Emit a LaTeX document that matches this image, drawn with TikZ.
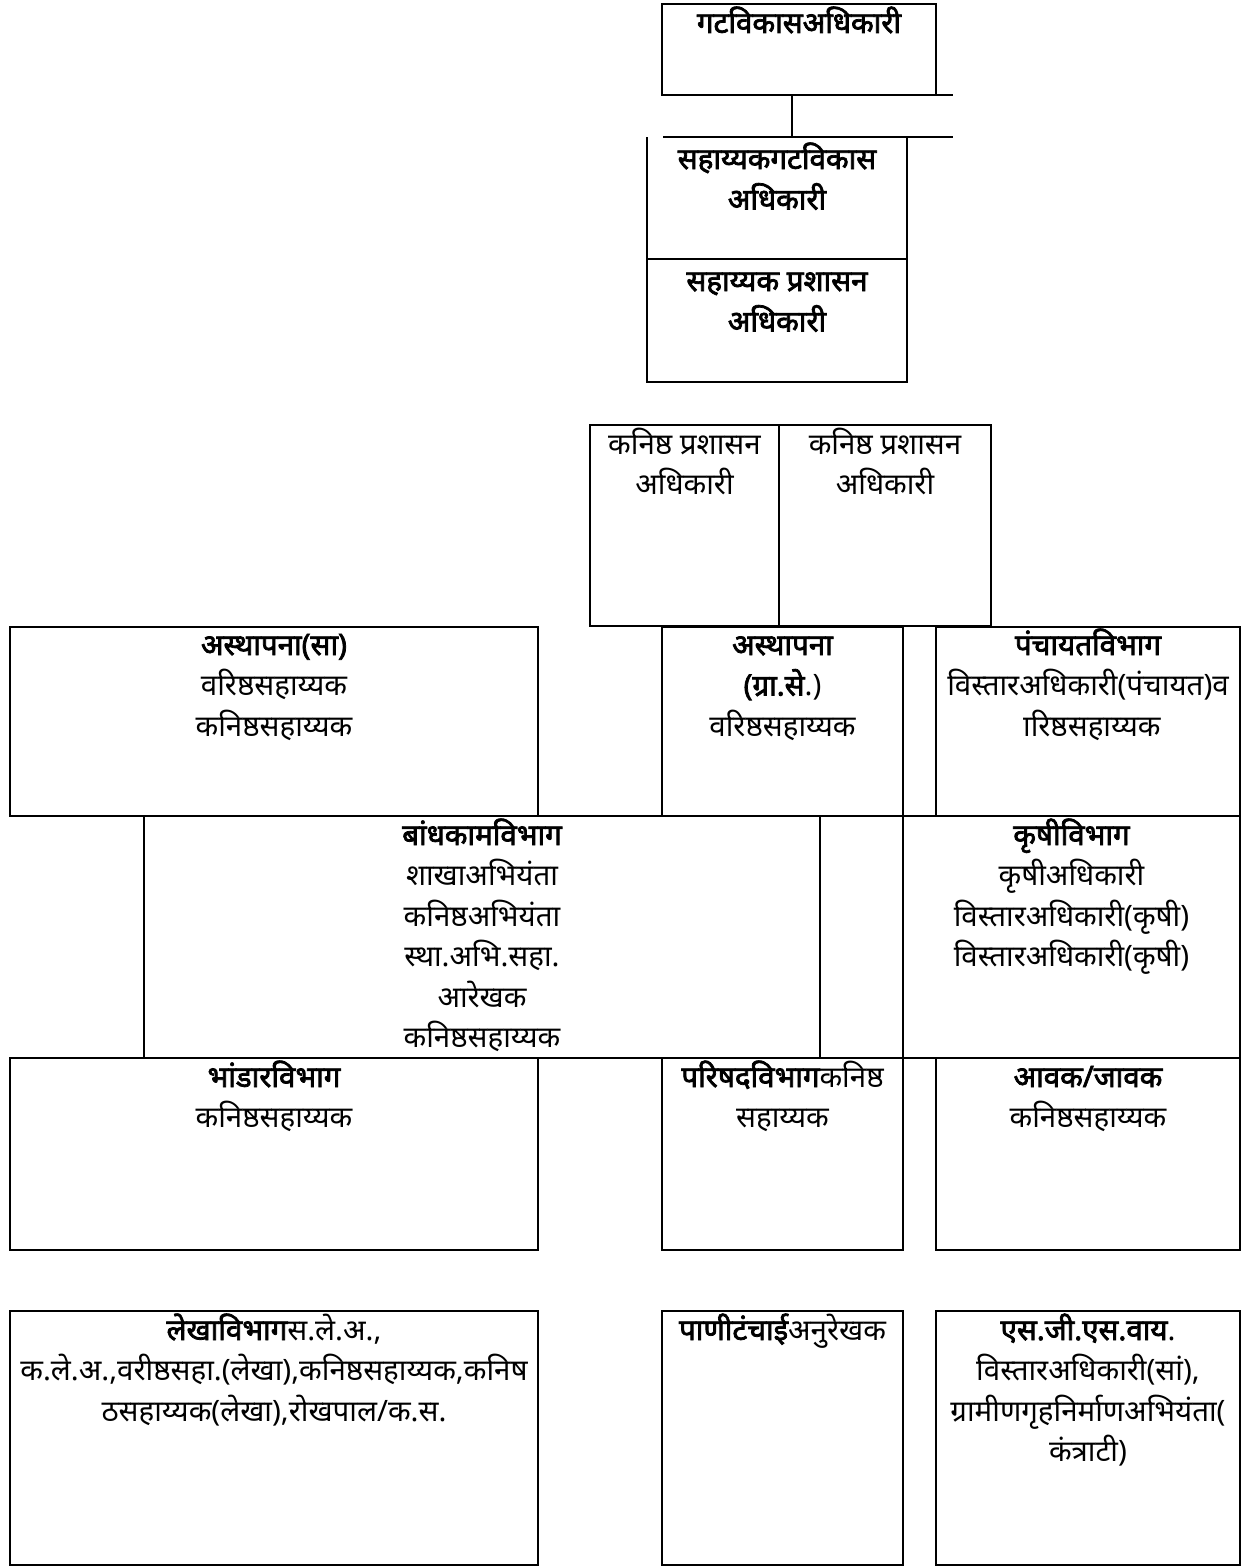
\documentclass[tikz,border=0pt]{standalone}
\usepackage{fontspec}
\setmainfont{Noto Sans}[Script=Devanagari, BoldFont={Noto Sans}, BoldFeatures={FakeBold=2.5}]
\usepackage{tikz}
\usetikzlibrary{positioning,calc}
\newcommand{\stack}[1]{\parbox[t]{600pt}{\centering #1}}
\tikzset{
  unitbox/.style={draw, line width=2.2pt, anchor=north west, inner sep=0pt, outer sep=0pt},
  plainbox/.style={unitbox, draw=none},
  unittext/.style={anchor=base, inner sep=0pt, font=\fontsize{29.5}{40.5}\selectfont},
  link/.style={line width=2.2pt}
}
\begin{document}
\begin{tikzpicture}[x=1pt, y=-1pt]
\useasboundingbox (0,0) rectangle (1256,1568);
% Top of the block
\node[unitbox, minimum width=274pt, minimum height=91pt] (bdo) at (662,4) {};
\node[unittext] at ($(bdo.north) + (0,29)$) {\stack{\bfseries गटविकासअधिकारी}};

% Assistant block
\node[plainbox, minimum width=260pt, minimum height=122pt] (abdo) at (647,137) {};
\node[unitbox, minimum width=260pt, minimum height=123pt] (aao) at (647,259) {};
\node[unittext] at ($(abdo.north) + (0,32)$) {\stack{\bfseries सहाय्यकगटविकास\\अधिकारी}};
\node[unittext] at ($(aao.north) + (0,32)$) {\stack{\bfseries सहाय्यक प्रशासन\\अधिकारी}};
\draw[link] (abdo.south west) -- (abdo.north west);
\draw[link] (abdo.south east) -- (abdo.north east);

% Connector
\coordinate (barL) at (663,137);
\coordinate (barR) at (953,137);
\coordinate (joint) at (792,137);
\draw[link] (bdo.south east) -- (barR |- bdo.south);
\draw[link] (barL) -- (barR);
\draw[link] (joint |- bdo.south) -- (joint);

% Junior officers
\node[unitbox, minimum width=189pt, minimum height=201pt] (jao1) at (590,425) {};
\node[unitbox, minimum width=212pt, minimum height=201pt] (jao2) at (779,425) {};
\node[unittext] at ($(jao1.north) + (0,29)$) {\stack{कनिष्ठ प्रशासन\\अधिकारी}};
\node[unittext] at ($(jao2.north) + (0,29)$) {\stack{कनिष्ठ प्रशासन\\अधिकारी}};

% Row 1
\node[unitbox, minimum width=528pt, minimum height=189pt] (estgen) at (10,627) {};
\node[unitbox, minimum width=241pt, minimum height=189pt] (estvil) at (662,627) {};
\node[unitbox, minimum width=304pt, minimum height=189pt] (panch) at (936,627) {};
\node[unittext] at ($(estgen.north) + (0,28)$) {\stack{{\bfseries अस्थापना(सा)}\\वरिष्ठसहाय्यक\\कनिष्ठसहाय्यक}};
\node[unittext] at ($(estvil.north) + (0,28)$) {\stack{{\bfseries अस्थापना\\(ग्रा.से}.)\\वरिष्ठसहाय्यक}};
\node[unittext] at ($(panch.north) + (0,28)$) {\stack{{\bfseries पंचायतविभाग}\\विस्तारअधिकारी(पंचायत)व\\^^^^00a0ारिष्ठसहाय्यक}};

% Row 2
\node[unitbox, minimum width=676pt, minimum height=242pt] (works) at (144,816) {};
\node[unitbox, minimum width=83pt, minimum height=242pt] (spare) at (820,816) {};
\node[unitbox, minimum width=337pt, minimum height=242pt] (agri) at (903,816) {};
\node[unittext] at ($(works.north) + (0,29)$) {\stack{{\bfseries बांधकामविभाग}\\शाखाअभियंता\\कनिष्ठअभियंता\\स्था.अभि.सहा.\\आरेखक\\कनिष्ठसहाय्यक}};
\node[unittext] at ($(agri.north) + (0,29)$) {\stack{{\bfseries कृषीविभाग}\\कृषीअधिकारी\\विस्तारअधिकारी(कृषी)\\विस्तारअधिकारी(कृषी)}};

% Row 3
\node[unitbox, minimum width=528pt, minimum height=192pt] (store) at (10,1058) {};
\node[unitbox, minimum width=241pt, minimum height=192pt] (council) at (662,1058) {};
\node[unitbox, minimum width=304pt, minimum height=192pt] (inout) at (936,1058) {};
\node[unittext] at ($(store.north) + (0,29)$) {\stack{{\bfseries भांडारविभाग}\\कनिष्ठसहाय्यक}};
\node[unittext] at ($(council.north) + (0,29)$) {\stack{{\bfseries परिषदविभाग}कनिष्ठ\\सहाय्यक}};
\node[unittext] at ($(inout.north) + (0,29)$) {\stack{{\bfseries आवक/जावक}\\कनिष्ठसहाय्यक}};

% Row 4
\node[unitbox, minimum width=528pt, minimum height=254pt] (accts) at (10,1311) {};
\node[unitbox, minimum width=241pt, minimum height=254pt] (water) at (662,1311) {};
\node[unitbox, minimum width=304pt, minimum height=254pt] (sgsy) at (936,1311) {};
\node[unittext] at ($(accts.north) + (0,29)$) {\stack{{\bfseries लेखाविभाग}स.ले.अ.,\\क.ले.अ.,वरीष्ठसहा.(लेखा),कनिष्ठसहाय्यक,कनिष\\ठसहाय्यक(लेखा),रोखपाल/क.स.}};
\node[unittext] at ($(water.north) + (0,29)$) {\stack{{\bfseries पाणीटंचाई}अनुरेखक}};
\node[unittext] at ($(sgsy.north) + (0,29)$) {\stack{{\bfseries एस.जी.एस.वाय}.\\विस्तारअधिकारी(सां),\\ग्रामीणगृहनिर्माणअभियंता(\\कंत्राटी)}};
\end{tikzpicture}
\end{document}
